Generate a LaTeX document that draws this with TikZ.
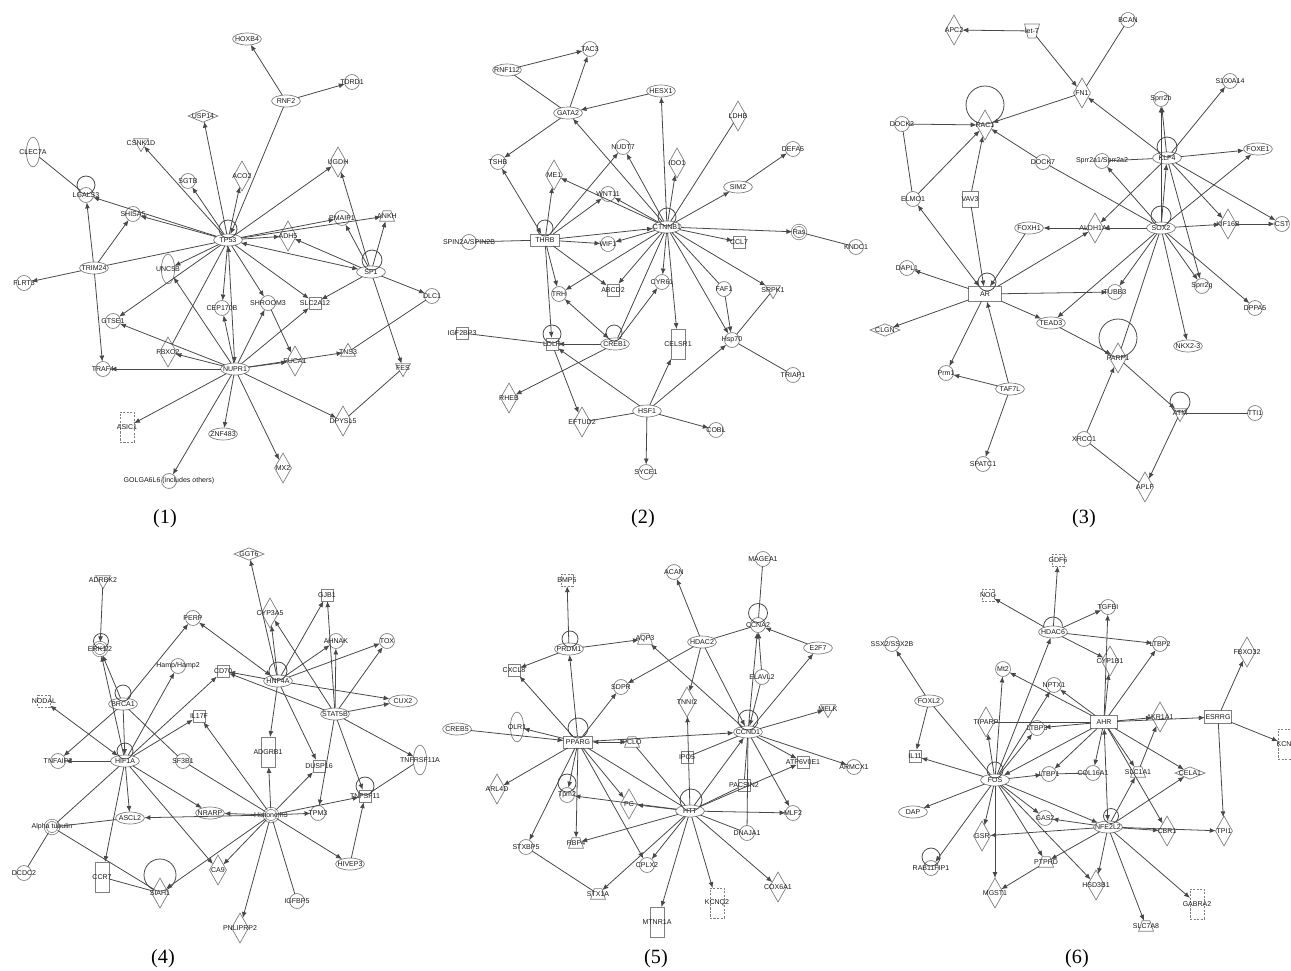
\documentclass[tikz,border=0pt]{standalone}
\usepackage{fontspec}
\newfontfamily\ndfamily{Liberation Sans}
\newfontfamily\pnfamily{Liberation Serif}
\usetikzlibrary{shapes.geometric,arrows.meta}
\definecolor{shp}{HTML}{808080}
\definecolor{edg}{HTML}{484848}
\definecolor{txt}{HTML}{1A1A1A}
\tikzset{
  base/.style={draw=shp,line width=0.4pt,inner sep=0pt,outer sep=0pt},
  lbl/.style={font=\ndfamily\fontsize{4}{4.5}\selectfont,text=txt,inner sep=0pt},
  C/.style={base,circle,minimum size=8.5pt,label={[lbl]center:#1}},
  DC/.style={base,circle,double,double distance=0.8pt,minimum size=7.6pt,label={[lbl]center:#1}},
  E/.style={base,ellipse,minimum width=16.4pt,minimum height=6.8pt,label={[lbl]center:#1}},
  VE/.style={base,ellipse,minimum width=7.5pt,minimum height=17pt,label={[lbl]center:#1}},
  R/.style={base,rectangle,minimum width=16.4pt,minimum height=6.8pt,label={[lbl]center:#1}},
  D/.style={base,diamond,minimum width=9.6pt,minimum height=17pt,label={[lbl]center:#1}},
  HD/.style={base,diamond,minimum width=17pt,minimum height=7pt,label={[lbl]center:#1}},
  TD/.style={base,regular polygon,regular polygon sides=3,shape border rotate=180,minimum size=9.8pt,label={[lbl]center:#1}},
  TU/.style={base,regular polygon,regular polygon sides=3,minimum size=9.8pt,label={[lbl]center:#1}},
  TZ/.style={base,trapezium,inner sep=0.6pt,trapezium left angle=65,trapezium right angle=65,trapezium stretches=true,minimum width=8.5pt,minimum height=6pt,label={[lbl]center:#1}},
  TZI/.style={base,trapezium,inner sep=0.6pt,trapezium left angle=115,trapezium right angle=115,trapezium stretches=true,minimum width=8.5pt,minimum height=8pt,label={[lbl]center:#1}},
  SQ/.style={base,rectangle,minimum size=7pt,label={[lbl]center:#1}},
  DS/.style={SQ=#1,dash pattern=on 1.2pt off 0.8pt},
  TR/.style={base,rectangle,minimum width=8pt,minimum height=17pt,label={[lbl]center:#1}},
  DR/.style={TR=#1,dash pattern=on 1.2pt off 0.8pt},
  tip/.tip={Latex[length=3.4pt,width=2.8pt]},
  ar/.style={draw=edg,line width=0.45pt,-tip},
  ba/.style={draw=edg,line width=0.45pt,tip-tip},
  ln/.style={draw=edg,line width=0.45pt},
  lp/.style={draw=edg,line width=0.45pt},
  pl/.style={font=\pnfamily\fontsize{11.5}{13}\selectfont,inner sep=0pt}
}
\begin{document}
\begin{tikzpicture}[x=0.02cm,y=-0.02cm]
\fill[white] (0,0) rectangle (1291,970);
\useasboundingbox (0,0) rectangle (1291,970);

% ---------------- Panel 1 ----------------
\node[E=HOXB4] (aHOXB4) at (247,39) {};
\node[C=TDRD1] (aTDRD1) at (352,82) {};
\node[E=RNF2] (aRNF2) at (286,101) {};
\node[HD=USP14] (aUSP14) at (203,116) {};
\node[TD=CSNK1D] (aCSNK1D) at (141,143) {};
\node[VE=CLEC7A] (aCLEC7A) at (33,152) {};
\node[C=SGTB] (aSGTB) at (188,181) {};
\node[D=ACO2] (aACO2) at (242,176) {};
\node[D=UGDH] (aUGDH) at (338,162) {};
\node[C=LGALS3] (aLGALS3) at (86,195) {};
\node[C=SHISA5] (aSHISA5) at (133,214) {};
\node[C=PMAIP1] (aPMAIP1) at (342,218) {};
\node[TZ=ANKH] (aANKH) at (387,216) {};
\node[D=ADH5] (aADH5) at (288,236) {};
\node[E=TP53] (aTP53) at (228,240) {};
\node[E=SP1] (aSP1) at (371,272) {};
\node[E=TRIM24] (aTRIM24) at (94,268) {};
\node[C=FLRT3] (aFLRT3) at (24,283) {};
\node[VE=UNC5B] (aUNC5B) at (168,269) {};
\node[C=DLC1] (aDLC1) at (432,296) {};
\node[C=CEP170B] (aCEP) at (222,308) {};
\node[C=SHROOM3] (aSHROOM3) at (268,303) {};
\node[SQ=SLC2A12] (aSLC2A12) at (315,303) {};
\node[C=GTSE1] (aGTSE1) at (113,321) {};
\node[D=FBXO2] (aFBXO2) at (168,352) {};
\node[TU=TNS3] (aTNS3) at (348,352) {};
\node[D=FUCA1] (aFUCA1) at (295,361) {};
\node[E=NUPR1] (aNUPR1) at (235,369) {};
\node[C=TRAF4] (aTRAF4) at (103,369) {};
\node[TD=FES] (aFES) at (403,368) {};
\node[DR=ASIC1] (aASIC1) at (127,427) {};
\node[E=ZNF483] (aZNF483) at (223,434) {};
\node[D=DPYSL5] (aDPYSL5) at (343,421) {};
\node[D=MX2] (aMX2) at (283,468) {};
\node[C={GOLGA6L6 (includes others)}] (aGOLGA) at (169,481) {};

\foreach \s/\t in {aRNF2/aHOXB4,aRNF2/aTDRD1,aRNF2/aTP53,aTP53/aUSP14,aTP53/aCSNK1D,aTP53/aSGTB,aTP53/aACO2,aTP53/aUGDH,aTP53/aLGALS3,aTP53/aSHISA5,aTRIM24/aSHISA5,aTRIM24/aLGALS3,aTP53/aPMAIP1,aTP53/aANKH,aTP53/aADH5,aSP1/aUGDH,aSP1/aPMAIP1,aSP1/aANKH,aSP1/aADH5,aTRIM24/aFLRT3,aTRIM24/aTRAF4,aTP53/aUNC5B,aTP53/aGTSE1,aTP53/aCEP,aTP53/aSHROOM3,aTP53/aSLC2A12,aSP1/aSLC2A12,aSP1/aDLC1,aSP1/aFES,aNUPR1/aDPYSL5,aNUPR1/aFUCA1,aNUPR1/aTNS3,aSHROOM3/aFUCA1,aNUPR1/aSLC2A12,aNUPR1/aSHROOM3,aNUPR1/aCEP,aNUPR1/aUNC5B,aNUPR1/aGTSE1,aNUPR1/aFBXO2,aNUPR1/aTRAF4,aNUPR1/aASIC1,aNUPR1/aZNF483,aNUPR1/aGOLGA,aNUPR1/aMX2}
  \draw[ar] (\s) -- (\t);
\foreach \s/\t in {aCLEC7A/aLGALS3,aTRIM24/aTP53,aDLC1/aTNS3,aFES/aDPYSL5,aFBXO2/aTP53}
  \draw[ln] (\s) -- (\t);
\foreach \s/\t in {aSP1/aTP53,aNUPR1/aTP53}
  \draw[ba] (\s) -- (\t);
\draw[lp] (aTP53) ++(0,-11) circle[radius=9];
\draw[lp] (aLGALS3) ++(0,-10) circle[radius=9];
\draw[lp] (aSP1) ++(1,-12) circle[radius=10];

% ---------------- Panel 2 ----------------
\node[C=TAC3] (bTAC3) at (590,49) {};
\node[E=RNF112] (bRNF112) at (507,70) {};
\node[E=HESX1] (bHESX1) at (661,91) {};
\node[E=GATA2] (bGATA2) at (568,113) {};
\node[D=LDHB] (bLDHB) at (738,116) {};
\node[C=NUDT7] (bNUDT7) at (623,147) {};
\node[C=DEFA5] (bDEFA5) at (793,149) {};
\node[D=IDO1] (bIDO1) at (677,163) {};
\node[C=TSHB] (bTSHB) at (498,162) {};
\node[D=ME1] (bME1) at (554,175) {};
\node[E=SIM2] (bSIM2) at (738,187) {};
\node[C=WNT11] (bWNT11) at (608,194) {};
\node[E=CTNNB1] (bCTNNB1) at (667,227) {};
\node[DC=Ras] (bRas) at (799,232) {};
\node[R=THRB] (bTHRB) at (545,240) {};
\node[C=SPIN2A/SPIN2B] (bSPIN) at (469,242) {};
\node[C=WIF1] (bWIF1) at (608,244) {};
\node[SQ=CCL7] (bCCL7) at (739,242) {};
\node[C=KNDC1] (bKNDC1) at (856,247) {};
\node[C=TRH] (bTRH) at (559,294) {};
\node[SQ=ABCD2] (bABCD2) at (613,290) {};
\node[C=CYR61] (bCYR61) at (662,282) {};
\node[C=FAF1] (bFAF1) at (724,289) {};
\node[TD=SRPK1] (bSRPK1) at (773,290) {};
\node[SQ=IGF2BP3] (bIGF) at (462,333) {};
\node[SQ=LDLR] (bLDLR) at (552,344) {};
\node[E=CREB1] (bCREB1) at (615,344) {};
\node[TR=CELSR1] (bCELSR1) at (678,344) {};
\node[C=Hsp70] (bHsp70) at (732,340) {};
\node[C=TRIAP1] (bTRIAP1) at (793,375) {};
\node[D=RHEB] (bRHEB) at (509,398) {};
\node[E=HSF1] (bHSF1) at (647,411) {};
\node[D=EFTUD2] (bEFTUD2) at (582,422) {};
\node[C=COBL] (bCOBL) at (716,430) {};
\node[C=SYCE1] (bSYCE1) at (646,472) {};

\foreach \s/\t in {bRNF112/bTAC3,bGATA2/bTAC3,bHESX1/bGATA2,bCTNNB1/bGATA2,bGATA2/bTSHB,bTHRB/bME1,bTHRB/bNUDT7,bTHRB/bWNT11,bCTNNB1/bME1,bCTNNB1/bWNT11,bCTNNB1/bNUDT7,bCTNNB1/bHESX1,bCTNNB1/bIDO1,bCTNNB1/bSIM2,bSIM2/bDEFA5,bCTNNB1/bRas,bCTNNB1/bCCL7,bTHRB/bCTNNB1,bTHRB/bWIF1,bCTNNB1/bWIF1,bTHRB/bTRH,bTHRB/bABCD2,bTHRB/bLDLR,bCTNNB1/bTRH,bCTNNB1/bABCD2,bCTNNB1/bCYR61,bCTNNB1/bCELSR1,bCTNNB1/bHsp70,bCTNNB1/bSRPK1,bFAF1/bHsp70,bHSF1/bHsp70,bHSF1/bCELSR1,bHSF1/bLDLR,bHSF1/bCOBL,bHSF1/bSYCE1,bCREB1/bCYR61,bCREB1/bLDLR,bCREB1/bRHEB,bLDLR/bEFTUD2}
  \draw[ar] (\s) -- (\t);
\foreach \s/\t in {bRNF112/bGATA2,bCTNNB1/bLDHB,bRas/bKNDC1,bSPIN/bTHRB,bCTNNB1/bFAF1,bSRPK1/bHsp70,bHsp70/bTRIAP1,bHSF1/bEFTUD2,bCREB1/bCTNNB1,bIGF/bLDLR}
  \draw[ln] (\s) -- (\t);
\foreach \s/\t in {bTHRB/bTSHB,bCREB1/bTRH}
  \draw[ba] (\s) -- (\t);
\draw[lp] (bCTNNB1) ++(0,-10) circle[radius=9];
\draw[lp] (bTHRB) ++(0,-12) circle[radius=8];
\draw[lp] (bLDLR) ++(0,-10) circle[radius=9];
\draw[lp] (bCREB1) ++(-1,-11) circle[radius=8];

% ---------------- Panel 3 ----------------
\node[D=APC2] (cAPC2) at (954,30) {};
\node[TZI=let-7] (clet) at (1032,31) {};
\node[C=BCAN] (cBCAN) at (1128,20) {};
\node[D=FN1] (cFN1) at (1082,93) {};
\node[C=S100A14] (cS100) at (1230,81) {};
\node[C=Sprr2b] (cSprr2b) at (1161,99) {};
\node[D=RAC1] (cRAC1) at (985,125) {};
\node[C=DOCK2] (cDOCK2) at (902,124) {};
\node[E=KLF4] (cKLF4) at (1167,158) {};
\node[E=FOXE1] (cFOXE1) at (1258,149) {};
\node[C=DOCK7] (cDOCK7) at (1043,162) {};
\node[C=Sprr2a1/Sprr2a2] (cSprr2a) at (1102,161) {};
\node[C=ELMO1] (cELMO1) at (913,199) {};
\node[SQ=VAV3,minimum size=9pt] (cVAV3) at (970,199) {};
\node[E=FOXH1] (cFOXH1) at (1029,228) {};
\node[D=ALDH1A1] (cALDH) at (1095,228) {};
\node[E=SOX2] (cSOX2) at (1161,228) {};
\node[D=KIF16B] (cKIF) at (1228,224) {};
\node[C=CST] (cCST) at (1282,224) {};
\node[C=DAPL1] (cDAPL1) at (907,268) {};
\node[R=AR,minimum width=18.5pt,minimum height=8.5pt] (cAR) at (985,294) {};
\node[C=TUBB3] (cTUBB3) at (1115,292) {};
\node[C=Sprr2g] (cSprr2g) at (1202,286) {};
\node[C=DPPA5] (cDPPA5) at (1255,308) {};
\node[HD=CLGN] (cCLGN) at (885,330) {};
\node[E=TEAD3] (cTEAD3) at (1051,323) {};
\node[E=NKX2-3] (cNKX) at (1188,346) {};
\node[D=PARP1] (cPARP1) at (1118,358) {};
\node[C=Prm1] (cPrm1) at (946,373) {};
\node[E=TAF7L] (cTAF7L) at (1010,389) {};
\node[TD=ATM] (cATM) at (1180,413) {};
\node[C=TTI1] (cTTI1) at (1255,413) {};
\node[C=XRCC1] (cXRCC1) at (1084,439) {};
\node[C=SPATC1] (cSPATC1) at (983,464) {};
\node[D=APLF] (cAPLF) at (1145,487) {};

\foreach \s/\t in {clet/cAPC2,clet/cFN1,cFN1/cRAC1,cKLF4/cFN1,cDOCK2/cRAC1,cELMO1/cRAC1,cVAV3/cRAC1,cDOCK7/cRAC1,cKLF4/cSprr2b,cSOX2/cSprr2b,cKLF4/cS100,cKLF4/cFOXE1,cSOX2/cSprr2a,cKLF4/cALDH,cSOX2/cKLF4,cSOX2/cFOXE1,cKLF4/cKIF,cKLF4/cCST,cSOX2/cKIF,cKIF/cCST,cSOX2/cALDH,cALDH/cFOXH1,cAR/cALDH,cKLF4/cSprr2g,cSOX2/cSprr2g,cSOX2/cTUBB3,cSOX2/cTEAD3,cSOX2/cNKX,cSOX2/cDPPA5,cVAV3/cAR,cFOXH1/cAR,cAR/cDAPL1,cAR/cCLGN,cAR/cTUBB3,cAR/cTEAD3,cAR/cPrm1,cTAF7L/cAR,cTAF7L/cPrm1,cTAF7L/cSPATC1,cTEAD3/cPARP1,cPARP1/cATM,cXRCC1/cPARP1,cATM/cAPLF}
  \draw[ar] (\s) -- (\t);
\foreach \s/\t in {cBCAN/cFN1,cDOCK2/cELMO1,cSOX2/cDOCK7,cSprr2a/cKLF4,cSOX2/cPARP1,cXRCC1/cAPLF,cATM/cTTI1}
  \draw[ln] (\s) -- (\t);
\draw[ba] (cAR) -- (cELMO1);
\draw[lp] (cRAC1) ++(0,-20) circle[radius=19];
\draw[lp] (cKLF4) ++(0,-11) circle[radius=10];
\draw[lp] (cSOX2) ++(0,-12) circle[radius=10];
\draw[lp] (cAR) ++(2,-12) circle[radius=9];
\draw[lp] (cPARP1) ++(0,-20) circle[radius=19];
\draw[lp] (cATM) ++(0,-11) circle[radius=10];

% ---------------- Panel 4 ----------------
\node[HD=GGT6] (dGGT6) at (249,554) {};
\node[TD=ADRBK2] (dADRBK2) at (103,580) {};
\node[SQ=GJB1] (dGJB1) at (327,595) {};
\node[D=CYP3A5] (dCYP3A5) at (270,613) {};
\node[C=PERP] (dPERP) at (193,618) {};
\node[C=AHNAK] (dAHNAK) at (336,641) {};
\node[C=TOX] (dTOX) at (387,641) {};
\node[DC=ERK1/2] (dERK) at (100,649) {};
\node[C=Hamp/Hamp2] (dHamp) at (178,666) {};
\node[SQ=CD70] (dCD70) at (223,671) {};
\node[E=HNF4A] (dHNF4A) at (278,681) {};
\node[DS=NODAL] (dNODAL) at (44,701) {};
\node[E=BRCA1] (dBRCA1) at (123,704) {};
\node[E=CUX2] (dCUX2) at (403,701) {};
\node[E=STAT5B] (dSTAT5B) at (335,714) {};
\node[SQ=IL17F] (dIL17F) at (199,716) {};
\node[C=TNFAIP2] (dTNFAIP2) at (58,761) {};
\node[E=HIF1A] (dHIF1A) at (125,761) {};
\node[C=SF3B1] (dSF3B1) at (183,761) {};
\node[TR=ADGRB1] (dADGRB1) at (268,752) {};
\node[SQ=DUSP16] (dDUSP16) at (319,766) {};
\node[VE=TNFRSF11A] (dTNFRSF) at (420,760) {};
\node[SQ=TNFSF11] (dTNFSF11) at (365,796) {};
\node[E=NRARP] (dNRARP) at (210,813) {};
\node[DC=Histone h3] (dH3) at (271,815) {};
\node[C=TPM3] (dTPM3) at (318,813) {};
\node[E=ASCL2] (dASCL2) at (130,818) {};
\node[DC=Alpha tubulin] (dAT) at (52,827) {};
\node[E=HIVEP3] (dHIVEP3) at (350,864) {};
\node[D=CA9] (dCA9) at (218,870) {};
\node[C=DCDC2] (dDCDC2) at (24,873) {};
\node[TR=CCR7] (dCCR7) at (102,877) {};
\node[D=SIAH1] (dSIAH1) at (160,893) {};
\node[C=IGFBP5] (dIGFBP5) at (297,901) {};
\node[D=PNLIPRP2] (dPNL) at (240,928) {};

\foreach \s/\t in {dADRBK2/dERK,dHNF4A/dGGT6,dHNF4A/dCYP3A5,dSTAT5B/dCYP3A5,dHNF4A/dGJB1,dSTAT5B/dGJB1,dHNF4A/dAHNAK,dSTAT5B/dAHNAK,dHNF4A/dTOX,dSTAT5B/dTOX,dBRCA1/dPERP,dHNF4A/dCD70,dSTAT5B/dCD70,dHNF4A/dCUX2,dSTAT5B/dCUX2,dHIF1A/dHamp,dHIF1A/dCD70,dHIF1A/dIL17F,dH3/dIL17F,dBRCA1/dERK,dHIF1A/dERK,dBRCA1/dHIF1A,dBRCA1/dTNFAIP2,dHIF1A/dTNFAIP2,dHIF1A/dASCL2,dHIF1A/dNRARP,dHIF1A/dCA9,dHIF1A/dCCR7,dH3/dSIAH1,dH3/dASCL2,dH3/dNRARP,dH3/dCA9,dH3/dPNL,dH3/dHIVEP3,dH3/dTPM3,dH3/dTNFSF11,dH3/dDUSP16,dH3/dADGRB1,dHNF4A/dADGRB1,dHNF4A/dDUSP16,dSTAT5B/dTPM3,dSTAT5B/dTNFSF11,dSTAT5B/dTNFRSF,dHIVEP3/dTNFSF11}
  \draw[ar] (\s) -- (\t);
\foreach \s/\t in {dBRCA1/dSF3B1,dHIF1A/dAT,dAT/dASCL2,dAT/dDCDC2,dAT/dSIAH1,dCCR7/dSIAH1,dH3/dIGFBP5,dSF3B1/dH3,dTNFRSF/dTNFSF11}
  \draw[ln] (\s) -- (\t);
\foreach \s/\t in {dHNF4A/dPERP,dHIF1A/dNODAL}
  \draw[ba] (\s) -- (\t);
\draw[lp] (dERK) ++(1,-8) circle[radius=7.5];
\draw[lp] (dHNF4A) ++(0,-10) circle[radius=9];
\draw[lp] (dBRCA1) ++(0,-11) circle[radius=8];
\draw[lp] (dHIF1A) ++(0,-10) circle[radius=8];
\draw[lp] (dTNFSF11) ++(0,-10) circle[radius=9];
\draw[lp] (dSIAH1) ++(0,-18) circle[radius=16];

% ---------------- Panel 5 ----------------
\node[C=MAGEA1] (eMAGEA1) at (763,559) {};
\node[C=ACAN] (eACAN) at (674,572) {};
\node[DS=BMP5] (eBMP5) at (567,580) {};
\node[C=CCNA2] (eCCNA2) at (758,625) {};
\node[TZ=AQP3] (eAQP3) at (645,639) {};
\node[E=HDAC2] (eHDAC2) at (702,642) {};
\node[E=PRDM1] (ePRDM1) at (569,649) {};
\node[E=E2F7] (eE2F7) at (818,648) {};
\node[SQ=CXCL8] (eCXCL8) at (514,670) {};
\node[C=ELAVL2] (eELAVL2) at (762,677) {};
\node[C=SDPR] (eSDPR) at (621,687) {};
\node[D=TNNI2] (eTNNI2) at (687,702) {};
\node[TD=MELK] (eMELK) at (828,709) {};
\node[E=CREB5] (eCREB5) at (457,729) {};
\node[VE=OLR1] (eOLR1) at (517,727) {};
\node[R=PPARG] (ePPARG) at (578,742) {};
\node[TZ=PCLO] (ePCLO) at (632,742) {};
\node[E=CCND1] (eCCND1) at (748,732) {};
\node[SQ=IPO5] (eIPO5) at (687,757) {};
\node[SQ=ATP6V0E1] (eATP) at (803,762) {};
\node[C=ARMCX1] (eARMCX1) at (854,767) {};
\node[D=ARL4D] (eARL4D) at (497,789) {};
\node[SQ=PACSIN2] (ePACSIN2) at (744,785) {};
\node[C=Tpm2] (eTpm2) at (567,795) {};
\node[D=PC] (ePC) at (629,804) {};
\node[E=HTT] (eHTT) at (690,811) {};
\node[C=MLF2] (eMLF2) at (793,813) {};
\node[C=DNAJA1] (eDNAJA1) at (747,833) {};
\node[C=STXBP5] (eSTXBP5) at (526,847) {};
\node[TZ=RBP4] (eRBP4) at (576,843) {};
\node[C=CPLX2] (eCPLX2) at (647,865) {};
\node[D=COX6A1] (eCOX6A1) at (778,887) {};
\node[TZ=STX1A] (eSTX1A) at (598,894) {};
\node[DR=KCNQ2] (eKCNQ2) at (717,903) {};
\node[TR=MTNR1A] (eMTNR1A) at (657,922) {};

\foreach \s/\t in {ePRDM1/eBMP5,ePRDM1/eAQP3,ePRDM1/eCXCL8,ePPARG/ePRDM1,ePPARG/eCXCL8,ePPARG/eSDPR,eHDAC2/eSDPR,eHDAC2/eACAN,eHDAC2/eTNNI2,eHDAC2/eCCND1,eCCND1/eAQP3,eE2F7/eCCNA2,eCCND1/eE2F7,eCCND1/eCCNA2,eELAVL2/eCCND1,eELAVL2/eCCNA2,eCCND1/eMELK,eHTT/eTNNI2,ePPARG/eCCND1,eCREB5/ePPARG,ePPARG/eOLR1,ePPARG/eARL4D,ePPARG/eTpm2,ePPARG/eRBP4,ePPARG/eSTXBP5,ePPARG/ePC,ePPARG/eCPLX2,eHTT/ePC,eHTT/eTpm2,eHTT/eRBP4,eHTT/eCPLX2,eHTT/eSTX1A,eHTT/eMTNR1A,eHTT/eKCNQ2,eHTT/eCOX6A1,eHTT/eMLF2,eHTT/eATP,eHTT/eCCND1,eCCND1/eATP,eCCND1/eARMCX1,eCCND1/eMLF2}
  \draw[ar] (\s) -- (\t);
\foreach \s/\t in {eHDAC2/eCCNA2,eMAGEA1/eCCNA2,ePPARG/eHTT,eHTT/ePACSIN2,eHTT/eDNAJA1,ePCLO/eHTT,eCCND1/ePACSIN2,eCCND1/eDNAJA1,eCCND1/eIPO5,eSTXBP5/eSTX1A}
  \draw[ln] (\s) -- (\t);
\draw[ba] (ePCLO) -- (ePPARG);
\draw[lp] (ePRDM1) ++(1,-10) circle[radius=8];
\draw[lp] (eCCNA2) ++(0,-12) circle[radius=9.5];
\draw[lp] (ePPARG) ++(0,-14) circle[radius=10];
\draw[lp] (eCCND1) ++(0,-12) circle[radius=10];
\draw[lp] (eTpm2) ++(0,-12) circle[radius=9];
\draw[lp] (eHTT) ++(1,-11) circle[radius=11];

% ---------------- Panel 6 ----------------
\node[DS=GDF6] (fGDF6) at (1058,560) {};
\node[DS=NOG] (fNOG) at (988,595) {};
\node[C=TGFBI] (fTGFBI) at (1108,607) {};
\node[E=HDAC6] (fHDAC6) at (1053,632) {};
\node[C=SSX2/SSX2B] (fSSX2) at (892,644) {};
\node[C=LTBP2] (fLTBP2) at (1160,644) {};
\node[D=FBXO32] (fFBXO32) at (1247,652) {};
\node[D=CYP1B1] (fCYP1B1) at (1110,661) {};
\node[C=Mt2] (fMt2) at (1003,669) {};
\node[C=NPTX1] (fNPTX1) at (1054,685) {};
\node[E=FOXL2] (fFOXL2) at (929,701) {};
\node[R=AHR,minimum width=15pt,minimum height=7.4pt] (fAHR) at (1104,722) {};
\node[D=TIPARP] (fTIPARP) at (986,722) {};
\node[D=AKR1A1] (fAKR1A1) at (1160,717) {};
\node[R=ESRRG,minimum width=15pt,minimum height=7.4pt] (fESRRG) at (1218,717) {};
\node[C=LTBP3] (fLTBP3) at (1037,728) {};
\node[DR=KCNI] (fKCN) at (1285,744) {};
\node[SQ=IL11] (fIL11) at (915,756) {};
\node[C=COL16A1] (fCOL) at (1093,773) {};
\node[C=LTBP1] (fLTBP1) at (1049,774) {};
\node[TZ=SLC1A1] (fSLC1A1) at (1138,772) {};
\node[HD=CELA1] (fCELA1) at (1190,773) {};
\node[E=FOS] (fFOS) at (995,780) {};
\node[E=DAP] (fDAP) at (913,812) {};
\node[C=GAS2] (fGAS2) at (1045,818) {};
\node[E=NFE2L2] (fNFE2L2) at (1108,827) {};
\node[D=GSR] (fGSR) at (982,836) {};
\node[D=CBR1] (fCBR1) at (1167,831) {};
\node[D=TPI1] (fTPI1) at (1224,831) {};
\node[C=RAB11FIP1] (fRAB) at (931,868) {};
\node[TZ=PTPRD] (fPTPRD) at (1046,862) {};
\node[D=HSD3B1] (fHSD3B1) at (1096,885) {};
\node[D=MGST1] (fMGST1) at (995,893) {};
\node[DR=GABRA2] (fGABRA2) at (1197,904) {};
\node[TZ=SLC7A8] (fSLC7A8) at (1146,926) {};

\foreach \s/\t in {fHDAC6/fGDF6,fHDAC6/fNOG,fHDAC6/fTGFBI,fHDAC6/fLTBP2,fHDAC6/fCYP1B1,fFOS/fHDAC6,fFOXL2/fSSX2,fFOXL2/fIL11,fAHR/fTGFBI,fAHR/fCYP1B1,fAHR/fLTBP2,fAHR/fMt2,fAHR/fNPTX1,fAHR/fAKR1A1,fAHR/fESRRG,fAHR/fLTBP3,fESRRG/fFBXO32,fESRRG/fKCN,fESRRG/fTPI1,fFOS/fMt2,fFOS/fTIPARP,fFOS/fNPTX1,fFOS/fLTBP3,fFOS/fIL11,fFOS/fDAP,fFOS/fRAB,fFOS/fGSR,fNFE2L2/fGSR,fFOS/fMGST1,fFOS/fPTPRD,fFOS/fHSD3B1,fFOS/fGAS2,fFOS/fNFE2L2,fFOS/fLTBP1,fAHR/fFOS,fAHR/fLTBP1,fAHR/fCOL,fAHR/fSLC1A1,fAHR/fCELA1,fAHR/fCBR1,fNFE2L2/fSLC1A1,fSLC1A1/fAKR1A1,fNFE2L2/fCELA1,fNFE2L2/fGAS2,fNFE2L2/fCBR1,fNFE2L2/fTPI1,fNFE2L2/fPTPRD,fNFE2L2/fHSD3B1,fNFE2L2/fSLC7A8,fNFE2L2/fGABRA2,fPTPRD/fMGST1}
  \draw[ar] (\s) -- (\t);
\foreach \s/\t in {fFOXL2/fFOS,fTIPARP/fAHR,fLTBP1/fCOL}
  \draw[ln] (\s) -- (\t);
\draw[ba] (fAHR) -- (fNFE2L2);
\draw[lp] (fHDAC6) ++(9.5,-5.5) arc[start angle=0,end angle=-180,radius=9.5];
\draw[lp] (fFOS) ++(0,-10) circle[radius=8];
\draw[lp] (fNFE2L2) ++(3,-11) circle[radius=7.5];
\draw[lp] (fRAB) ++(0,-11) circle[radius=9];

% ---------------- Panel labels ----------------
\node[pl] (lab1) at (165,519) {(1)};
\node[pl] (lab2) at (643,519) {(2)};
\node[pl] (lab3) at (1084,519) {(3)};
\node[pl] (lab4) at (163,959) {(4)};
\node[pl] (lab5) at (656,959) {(5)};
\node[pl] (lab6) at (1077,959) {(6)};
\end{tikzpicture}
\end{document}
